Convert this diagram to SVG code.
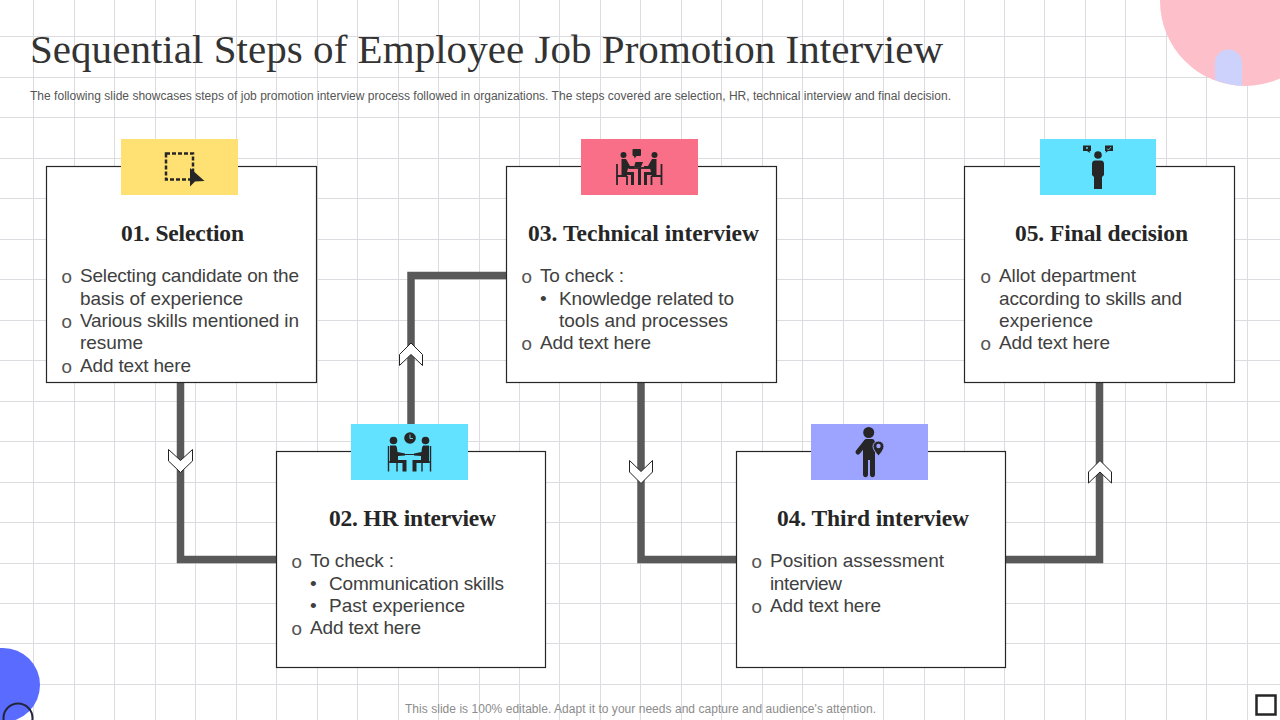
<svg xmlns="http://www.w3.org/2000/svg" width="1280" height="720" viewBox="0 0 1280 720">
<style>
.grid{stroke:#dcdce0;stroke-width:1;fill:none}
.card{fill:#fff;stroke:#262626;stroke-width:1.200}
.wire{fill:none;stroke:#595959;stroke-width:7.500}
.chev{fill:#fff;stroke:#222;stroke-width:1}
.ic{fill:#262626;stroke:none}
.icl{fill:none;stroke:#262626}
text{font-family:"Liberation Sans",Arial,sans-serif}
.title{font-family:"Liberation Serif","Times New Roman",serif;font-size:41px;fill:#333}
.sub{font-size:12px;fill:#555}
.foot{font-size:12px;fill:#8c8c8c}
.h{font-family:"Liberation Serif","Times New Roman",serif;font-size:23.500px;font-weight:bold;fill:#262626}
.b{font-size:19px;fill:#404040}
.o{font-family:"Liberation Mono","Courier New",monospace;font-size:19px;fill:#555}
</style>
<g id="grid" class="grid">
<path d="M33.500 0V720M74.500 0V720M114.500 0V720M155.500 0V720M195.500 0V720M236.500 0V720M276.500 0V720M317.500 0V720M357.500 0V720M398.500 0V720M438.500 0V720M479.500 0V720M519.500 0V720M559.500 0V720M600.500 0V720M640.500 0V720M681.500 0V720M721.500 0V720M762.500 0V720M802.500 0V720M843.500 0V720M883.500 0V720M924.500 0V720M964.500 0V720M1004.500 0V720M1044.500 0V720M1085.500 0V720M1125.500 0V720M1166.500 0V720M1206.500 0V720M1247.500 0V720"/>
<path d="M0 36.500H1280M0 77.500H1280M0 117.500H1280M0 158.500H1280M0 198.500H1280M0 239.500H1280M0 279.500H1280M0 320.500H1280M0 360.500H1280M0 401.500H1280M0 441.500H1280M0 482.500H1280M0 522.500H1280M0 563.500H1280M0 603.500H1280M0 643.500H1280M0 684.500H1280"/>
</g>
<g id="decor">
<circle cx="1245" cy="1" r="85" fill="#fdc0ca"/>
<path d="M1215 80V63A13.500 13.500 0 0 1 1242 63V86A85 85 0 0 1 1215 80Z" fill="#ccd2fb"/>
<circle cx="3" cy="685" r="37" fill="#5a6bff"/>
<circle cx="18" cy="718" r="14.500" fill="none" stroke="#23253a" stroke-width="2"/>
<rect x="1256.500" y="695.500" width="19" height="19" fill="#fff" stroke="#262626" stroke-width="2.500"/>
</g>
<text class="title" x="30" y="63" textLength="913">Sequential Steps of Employee Job Promotion Interview</text>
<text class="sub" x="30" y="100" textLength="921">The following slide showcases steps of job promotion interview process followed in organizations. The steps covered are selection, HR, technical interview and final decision.</text>
<g id="connectors">
<path class="wire" d="M180.500 382V559.500H277"/>
<path class="wire" d="M411 424V275.500H507"/>
<path class="wire" d="M641 382V559.500H737"/>
<path class="wire" d="M1005 559.500H1099.500V382"/>
<path class="chev" d="M168.500 449.500L180.500 460.500L192.500 449.500V461L180.500 472.500L168.500 461Z"/>
<path class="chev" d="M629.500 460.500L641 471.500L652.500 460.500V472L641 483.500L629.500 472Z"/>
<path class="chev" d="M411 343L422.500 354.500V365.500L411 354.500L399.500 365.500V354.500Z"/>
<path class="chev" d="M1100 460.500L1111.500 472V483L1100 472L1088.500 483V472Z"/>
</g>
<g id="node1">
<rect class="card" x="46.500" y="166.500" width="270" height="216"/>
<rect x="121" y="139" width="117" height="56" fill="#ffe173"/>
<rect x="166" y="153.500" width="27" height="26" fill="none" stroke="#262626" stroke-width="2.500" stroke-dasharray="4 2"/>
<path class="ic" d="M190 168L204.500 181L195 181.500L190 186.500Z"/>
<text class="h" x="121" y="241" textLength="123">01. Selection</text>
<text class="o" x="61" y="283">o</text><text class="b" x="80" y="282" textLength="219">Selecting candidate on the</text>
<text class="b" x="80" y="305" textLength="163">basis of experience</text>
<text class="o" x="61" y="328">o</text><text class="b" x="80" y="327" textLength="219">Various skills mentioned in</text>
<text class="b" x="80" y="349" textLength="63">resume</text>
<text class="o" x="61" y="373">o</text><text class="b" x="80" y="372" textLength="111">Add text here</text>
</g>
<g id="node2">
<rect class="card" x="276.500" y="451.500" width="269" height="216"/>
<rect x="351" y="424" width="117" height="56" fill="#62e2ff"/>
<circle class="ic" cx="410" cy="438" r="5.800"/>
<path d="M410 434.500V438.500H413" fill="none" stroke="#62e2ff" stroke-width="0.900"/>
<circle class="ic" cx="393.500" cy="440.500" r="3.800"/><circle class="ic" cx="425.500" cy="440.500" r="3.800"/>
<path class="ic" d="M390 445.500H395C397 445.500 397 448 397.500 452L405 453.500V455.500L398 456V460H406.500V471.500H402.500V463H390ZM429 445.500H424C422 445.500 422 448 421.500 452L414 453.500V455.500L421 456V460H412.500V471.500H416.500V463H429Z"/>
<path class="icl" stroke-width="1" d="M398 454.500H421"/>
<path class="icl" stroke-width="1.400" stroke="#1f4a5a" d="M388.500 446V471.500M388.500 462H397M397 462V471.500M430.500 446V471.500M430.500 462H422M422 462V471.500"/>
<text class="h" x="329" y="526" textLength="167">02. HR interview</text>
<text class="o" x="291" y="568">o</text><text class="b" x="310" y="567" textLength="84">To check :</text>
<text class="b" x="310" y="590">•</text><text class="b" x="329" y="590" textLength="175">Communication skills</text>
<text class="b" x="310" y="612">•</text><text class="b" x="329" y="612" textLength="136">Past experience</text>
<text class="o" x="291" y="635">o</text><text class="b" x="310" y="634" textLength="111">Add text here</text>
</g>
<g id="node3">
<rect class="card" x="506.500" y="166.500" width="270" height="216"/>
<rect x="581" y="139" width="117" height="56" fill="#f96f88"/>
<rect class="ic" x="632.500" y="149" width="8.500" height="7" rx="1"/>
<path class="ic" d="M634 155.500H637L634.500 158.500Z"/>
<circle class="ic" cx="623.500" cy="155" r="3"/><circle class="ic" cx="654.500" cy="155" r="3"/>
<path class="ic" d="M621.500 159H626L630 166H634V168.500H628L627 172H634V185H631V175H621.500ZM656.500 159H652L648 166H644V168.500H650L651 172H644V185H647V175H656.500Z"/>
<path class="ic" d="M635.500 162H643L641 167H634Z"/>
<path class="icl" stroke-width="1.800" d="M629 168H650"/>
<path class="icl" stroke-width="3" d="M639.500 168V185"/>
<path class="icl" stroke-width="1.800" d="M617 164V185M617 176H627M627 176V185M661.500 164V185M661.500 176H651.500M651.500 176V185"/>
<text class="h" x="528" y="241" textLength="231">03. Technical interview</text>
<text class="o" x="521" y="283">o</text><text class="b" x="540" y="282" textLength="84">To check :</text>
<text class="b" x="540" y="305">•</text><text class="b" x="559" y="305" textLength="175">Knowledge related to</text>
<text class="b" x="559" y="327" textLength="169">tools and processes</text>
<text class="o" x="521" y="350">o</text><text class="b" x="540" y="349" textLength="111">Add text here</text>
</g>
<g id="node4">
<rect class="card" x="736.500" y="451.500" width="269" height="216"/>
<rect x="811" y="424" width="117" height="56" fill="#9da4ff"/>
<circle class="ic" cx="868.700" cy="432.500" r="5.500"/>
<path class="icl" stroke-width="5" stroke-linecap="round" d="M866 442L858 452"/>
<path class="ic" d="M866 439H872C874 439 875 441 875 443V474.500C875 478 870 478 870 474.500V460H868V474.500C868 478 863 478 863 474.500V442Z"/>
<path class="ic" stroke="#9da4ff" stroke-width="1" d="M878.500 441A5.500 5.500 0 0 1 884 446.500C884 449.500 881 453 878.500 456C876 453 873 449.500 873 446.500A5.500 5.500 0 0 1 878.500 441Z" style="stroke:#9da4ff"/>
<circle cx="878.500" cy="446" r="2.200" fill="#9da4ff"/>
<text class="h" x="777" y="526" textLength="192">04. Third interview</text>
<text class="o" x="751" y="568">o</text><text class="b" x="770" y="567" textLength="174">Position assessment</text>
<text class="b" x="770" y="590" textLength="72">interview</text>
<text class="o" x="751" y="613">o</text><text class="b" x="770" y="612" textLength="111">Add text here</text>
</g>
<g id="node5">
<rect class="card" x="964.500" y="166.500" width="270" height="216"/>
<rect x="1040" y="139" width="116" height="56" fill="#62e2ff"/>
<circle class="ic" cx="1098" cy="155" r="3.800"/>
<path class="ic" d="M1095 160.500H1101C1103 160.500 1104 162 1104 164V175L1102 177V189H1094V177L1092 175V164C1092 162 1093 160.500 1095 160.500Z"/>
<path class="ic" d="M1083 145.500H1091V151H1089.500L1090 153L1087 151H1083ZM1105 145.500H1113V151H1108L1105.500 153L1106 151H1105Z"/>
<path d="M1107 148.500L1108.500 150L1111 147" fill="none" stroke="#62e2ff" stroke-width="0.800"/>
<path d="M1086 147L1088 149M1088 147L1086 149" fill="none" stroke="#62e2ff" stroke-width="0.700"/>
<text class="h" x="1015" y="241" textLength="173">05. Final decision</text>
<text class="o" x="980" y="283">o</text><text class="b" x="999" y="282" textLength="137">Allot department</text>
<text class="b" x="999" y="305" textLength="183">according to skills and</text>
<text class="b" x="999" y="327" textLength="94">experience</text>
<text class="o" x="980" y="350">o</text><text class="b" x="999" y="349" textLength="111">Add text here</text>
</g>
<text class="foot" x="405" y="713" textLength="471">This slide is 100% editable. Adapt it to your needs and capture and audience's attention.</text>
</svg>
